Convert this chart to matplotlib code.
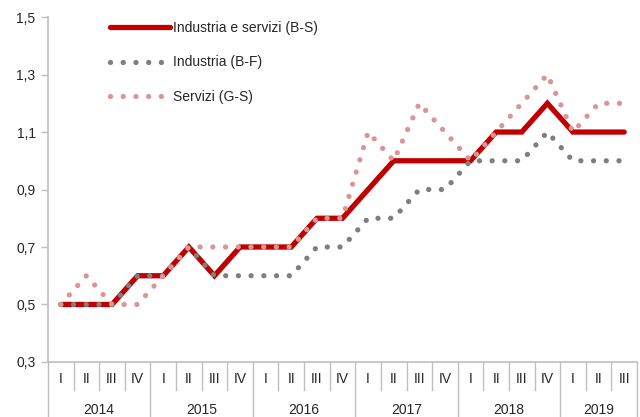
import matplotlib
matplotlib.use("Agg")
import matplotlib.pyplot as plt
import matplotlib.transforms as mtransforms

plt.rcParams['font.family'] = ['Liberation Sans Narrow', 'Liberation Sans', 'DejaVu Sans']

years = ['2014', '2015', '2016', '2017', '2018', '2019']
quarters = ['I', 'II', 'III', 'IV']
# quarter labels, 2014 I .. 2019 III
q_labels = quarters * 5 + quarters[:3]

industria_servizi = [0.5, 0.5, 0.5, 0.6, 0.6, 0.7, 0.6, 0.7, 0.7, 0.7, 0.8, 0.8,
                     0.9, 1.0, 1.0, 1.0, 1.0, 1.1, 1.1, 1.2, 1.1, 1.1, 1.1]
industria = [0.5, 0.5, 0.5, 0.6, 0.6, 0.7, 0.6, 0.6, 0.6, 0.6, 0.7, 0.7,
             0.8, 0.8, 0.9, 0.9, 1.0, 1.0, 1.0, 1.1, 1.0, 1.0, 1.0]
servizi = [0.5, 0.6, 0.5, 0.5, 0.6, 0.7, 0.7, 0.7, 0.7, 0.7, 0.8, 0.8,
           1.1, 1.0, 1.2, 1.1, 1.0, 1.1, 1.2, 1.3, 1.1, 1.2, 1.2]

labels = ['Industria e servizi (B-S)', 'Industria (B-F)', 'Servizi (G-S)']
red = '#C00000'
grey = '#7F7F7F'
pink = '#DA9694'
axis_col = '#BFBFBF'
txt = '#262626'
fs = 10

fig = plt.figure(figsize=(6.4, 4.17), dpi=100)
ax = fig.add_axes([0.075, 0.132, 0.9203, 0.827])

x = list(range(len(q_labels)))
dots = (0, (0.01, 2.4))
ax.plot(x, industria_servizi, color=red, lw=3.8, solid_capstyle='round',
        solid_joinstyle='miter', label=labels[0], zorder=2)
ax.plot(x, industria, color=grey, lw=3.8, linestyle=dots,
        dash_capstyle='round', label=labels[1], zorder=3)
ax.plot(x, servizi, color=pink, lw=3.8, linestyle=dots,
        dash_capstyle='round', label=labels[2], zorder=4)

ax.set_xlim(-0.5, len(x) - 0.5)
ax.set_ylim(0.3, 1.5)
ax.set_yticks([0.3, 0.5, 0.7, 0.9, 1.1, 1.3, 1.5])
ax.set_yticklabels(['0,3', '0,5', '0,7', '0,9', '1,1', '1,3', '1,5'])
ax.tick_params(axis='y', length=5, width=1, color=axis_col, labelsize=fs,
               labelcolor=txt, pad=4)
ax.set_xticks([])
for s in ['top', 'right']:
    ax.spines[s].set_visible(False)
for s in ['left', 'bottom']:
    ax.spines[s].set_color(axis_col)
    ax.spines[s].set_linewidth(1.2)

# multi-level category axis
tr = mtransforms.blended_transform_factory(ax.transData, ax.transAxes)
for i, q in enumerate(q_labels):
    ax.text(i, -0.05, q, transform=tr, ha='center', va='center',
            fontsize=fs, color=txt)
    b = i - 0.5
    if i % 4 == 0:
        ax.plot([b, b], [0, -0.17], transform=tr, color=axis_col, lw=1, clip_on=False)
    else:
        ax.plot([b, b], [0, -0.081], transform=tr, color=axis_col, lw=1, clip_on=False)
end = len(x) - 0.5
ax.plot([end, end], [0, -0.17], transform=tr, color=axis_col, lw=1, clip_on=False)
for k, yr in enumerate(years):
    n = min(4, len(x) - 4 * k)
    ax.text(4 * k + (n - 1) / 2, -0.139, yr, transform=tr, ha='center',
            va='center', fontsize=fs, color=txt)

ax.legend(loc='upper left', bbox_to_anchor=(0.105, 0.99), frameon=False,
          fontsize=fs, handlelength=4.3, handletextpad=0.25, labelspacing=1.5,
          borderpad=0, borderaxespad=0, labelcolor=txt)

fig.savefig('out.png', dpi=100)
